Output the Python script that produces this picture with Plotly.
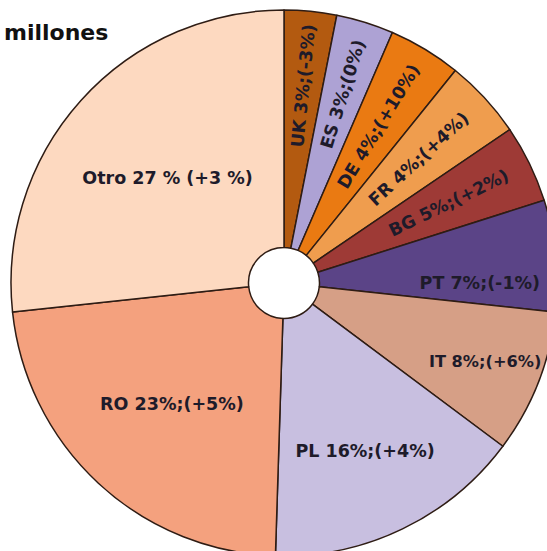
import plotly.graph_objects as go

# Data (shares in %, clockwise from 12 o'clock)
countries = ["UK", "ES", "DE", "FR", "BG", "PT", "IT", "PL", "RO", "Otro"]
shares = [3.1, 3.4, 4.3, 4.7, 4.6, 6.6, 8.5, 15.3, 22.8, 26.7]
labels_text = ["UK 3%;(-3%)", "ES 3%;(0%)", "DE 4%;(+10%)", "FR 4%;(+4%)",
               "BG 5%;(+2%)", "PT 7%;(-1%)", "IT 8%;(+6%)", "PL 16%;(+4%)",
               "RO 23%;(+5%)", "Otro 27 % (+3 %)"]
radial = [True, True, True, True, True, False, False, False, False, False]
colors = ["#b35a10", "#ada2d4", "#ea7a12", "#ef9d4e", "#9e3a36",
          "#5b4487", "#d69f86", "#c8bfe0", "#f4a17e", "#fdd9c0"]

text_h = [t if not r else "" for t, r in zip(labels_text, radial)]
text_r = [t if r else "" for t, r in zip(labels_text, radial)]

tfont = dict(family="DejaVu Sans", size=17.5, color="#1e1b2a", weight="bold")

fig = go.Figure()
fig.add_trace(go.Pie(
    labels=countries, values=shares, text=text_h, textinfo="text",
    sort=False, direction="clockwise", rotation=0, hole=0.13,
    marker=dict(colors=colors, line=dict(color="#2e1c14", width=1.5)),
    textposition="inside", insidetextorientation="horizontal",
    insidetextfont=tfont,
    showlegend=False, hoverinfo="label+percent",
))
fig.add_trace(go.Pie(
    labels=countries, values=shares, text=text_r, textinfo="text",
    sort=False, direction="clockwise", rotation=0, hole=0.13,
    marker=dict(colors=["rgba(0,0,0,0)"] * len(countries), line=dict(width=0)),
    textposition="inside", insidetextorientation="radial",
    insidetextfont=tfont,
    showlegend=False, hoverinfo="skip",
))

fig.add_annotation(
    text="<b>millones</b>", xref="paper", yref="paper",
    x=(2 - 11) / 546, y=1 + (10 - 33) / 546, xanchor="left", yanchor="middle",
    showarrow=False, font=dict(family="DejaVu Sans", size=22, color="#111111"),
)

fig.update_layout(
    width=557, height=556,
    margin=dict(l=11, r=0, t=10, b=0),
    paper_bgcolor="white", plot_bgcolor="white",
)

fig.write_html("out.html", config={"displayModeBar": False}, post_script=(
    "document.body.style.margin='0';"
    "document.body.style.overflow='hidden';"
    "document.documentElement.style.overflow='hidden';"
))
